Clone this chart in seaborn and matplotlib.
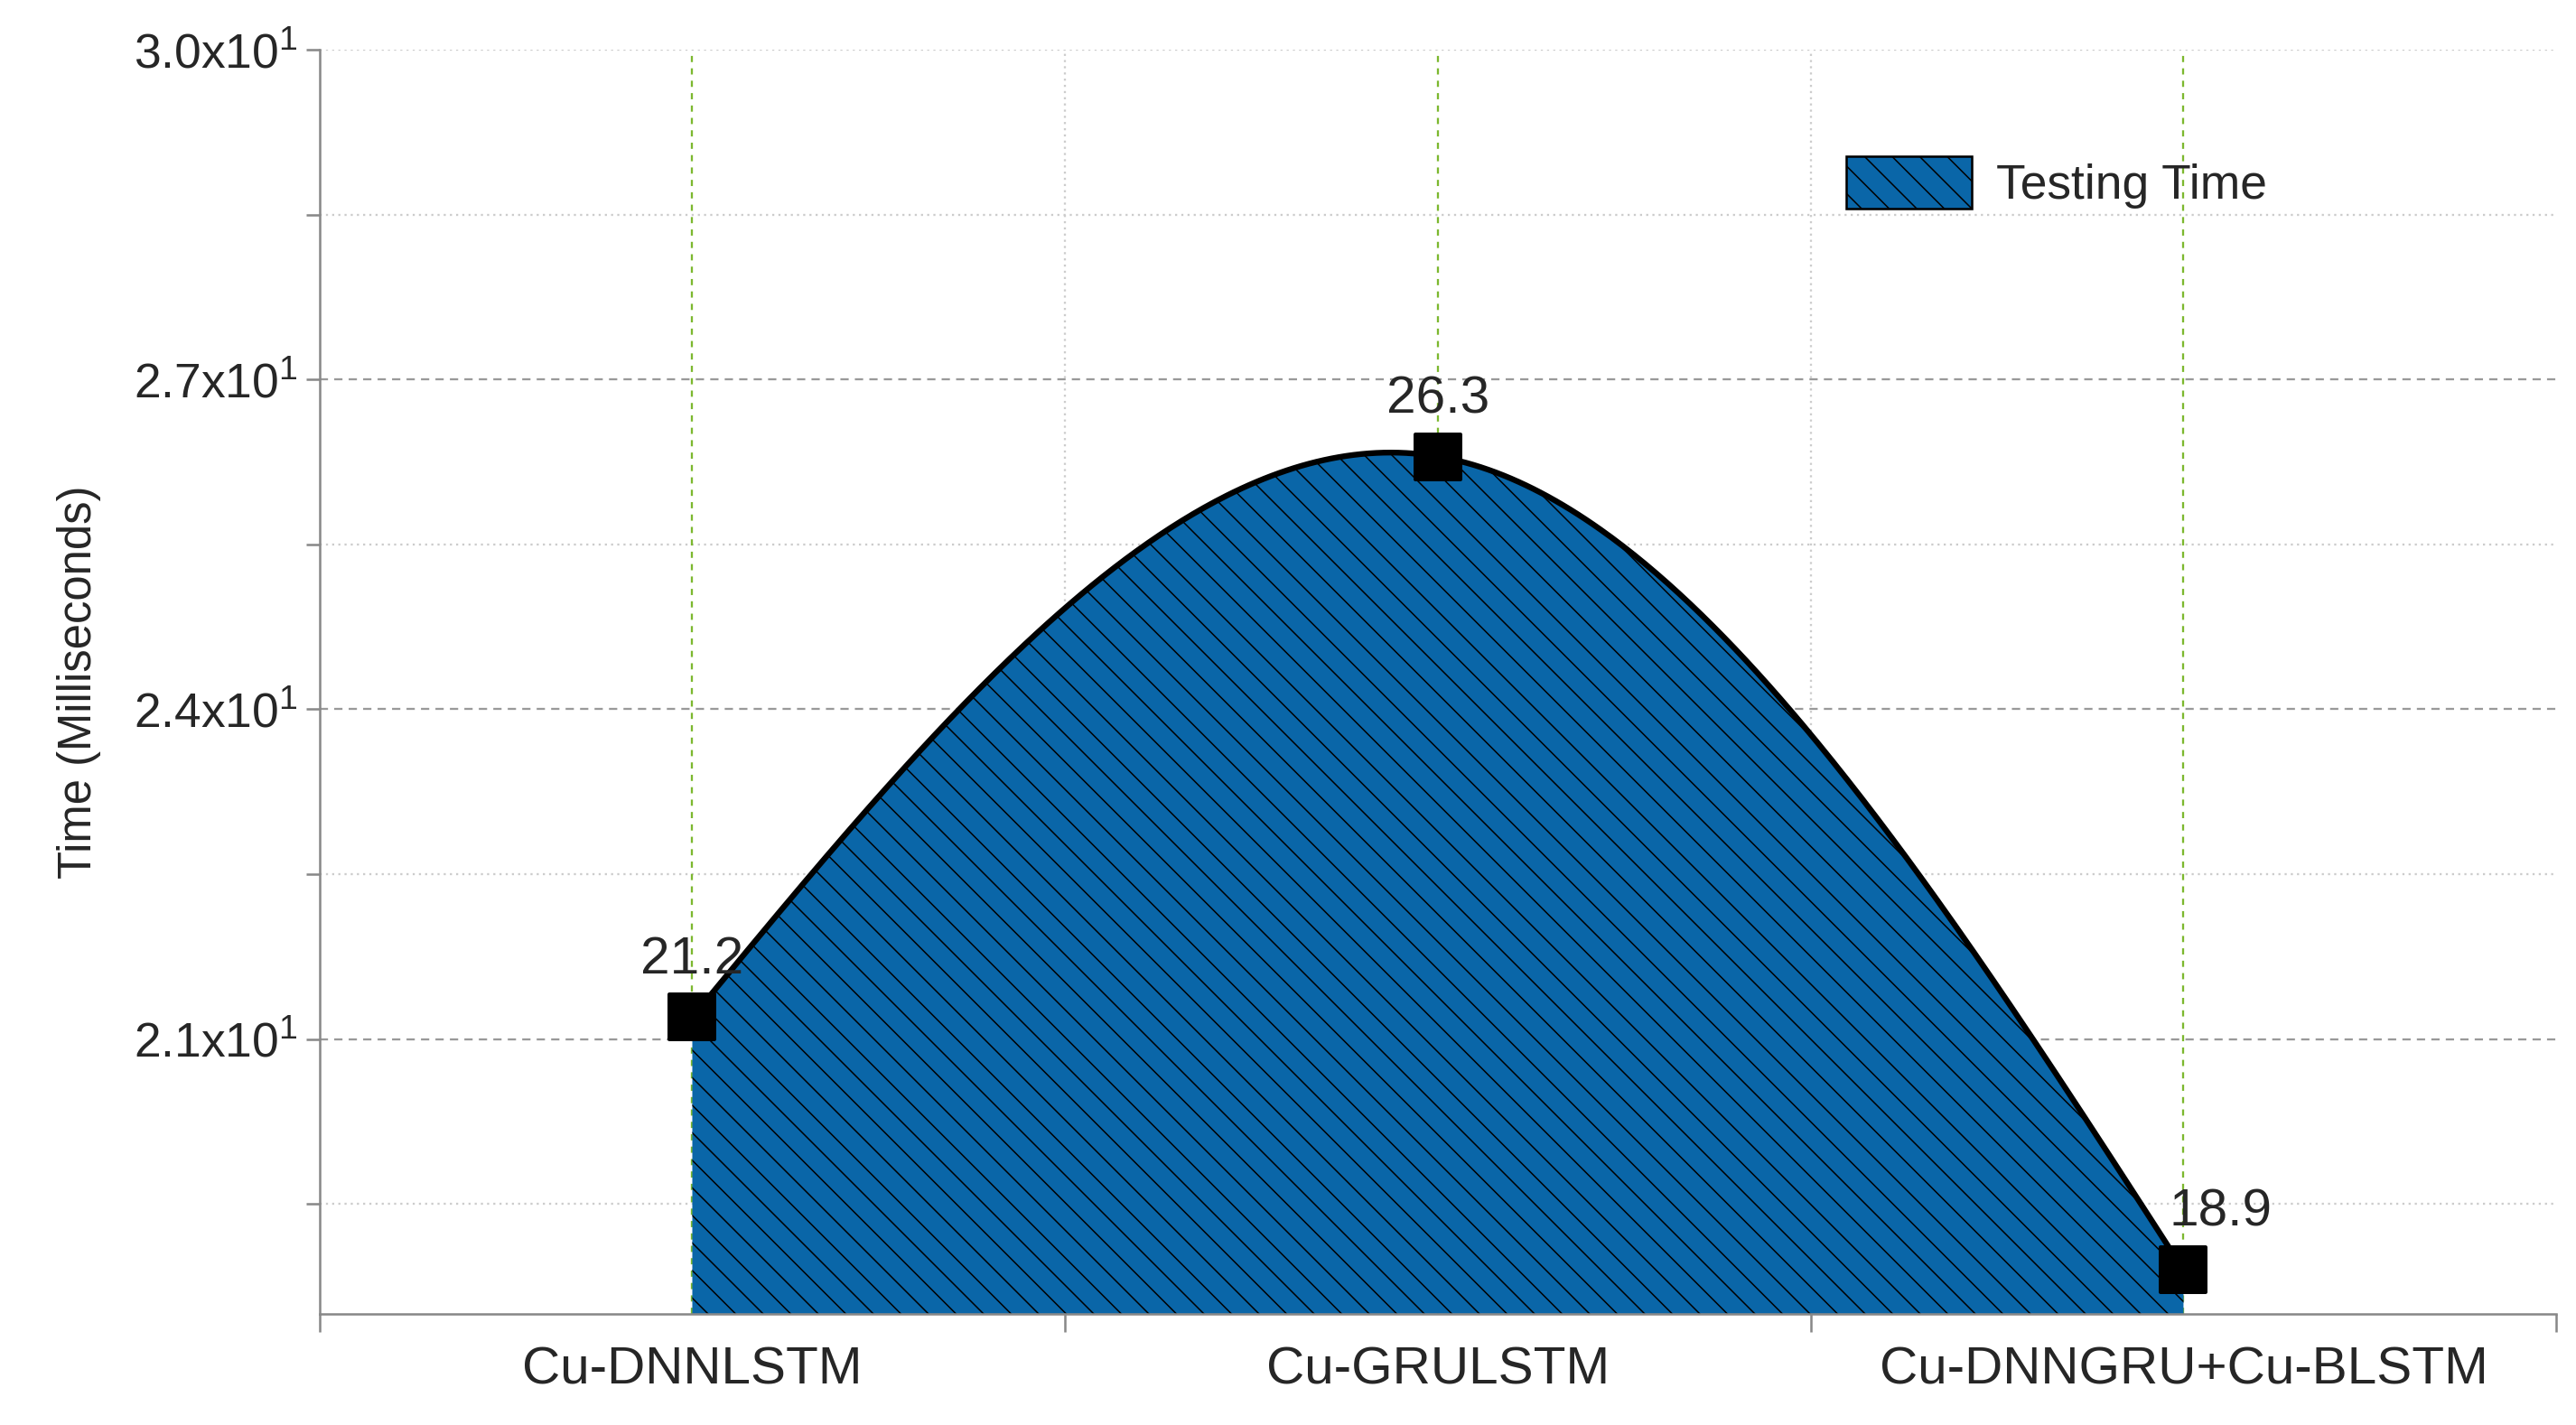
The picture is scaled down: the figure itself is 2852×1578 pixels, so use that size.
import numpy as np
import pandas as pd
import matplotlib
matplotlib.use("Agg")
import matplotlib.pyplot as plt
import seaborn as sns
from matplotlib.patches import Patch

models = ["Cu-DNNLSTM", "Cu-GRULSTM", "Cu-DNNGRU+Cu-BLSTM"]
times = [21.2, 26.3, 18.9]
ytick_vals = [21, 24, 27, 30]
ytick_labels = ["2.1x10$^1$", "2.4x10$^1$", "2.7x10$^1$", "3.0x10$^1$"]

sns.set_style("white")
plt.rcParams['font.family'] = ['Liberation Sans', 'DejaVu Sans']
plt.rcParams['mathtext.fontset'] = 'custom'
plt.rcParams['mathtext.rm'] = 'Liberation Sans'
plt.rcParams['hatch.linewidth'] = 0.6

fig = plt.figure(figsize=(15.59, 8.623), dpi=183)
ax = fig.add_axes([0.124, 0.078, 0.868, 0.887])

x = np.arange(len(models), dtype=float)
y = np.array(times)

def natural_spline(xk, yk, xs):
    n = len(xk)
    h = np.diff(xk)
    A = np.zeros((n, n)); b = np.zeros(n)
    A[0, 0] = A[-1, -1] = 1
    for i in range(1, n - 1):
        A[i, i-1] = h[i-1]; A[i, i] = 2*(h[i-1]+h[i]); A[i, i+1] = h[i]
        b[i] = 3*((yk[i+1]-yk[i])/h[i] - (yk[i]-yk[i-1])/h[i-1])
    c = np.linalg.solve(A, b)
    out = np.empty_like(xs)
    for j, xv in enumerate(xs):
        i = min(max(np.searchsorted(xk, xv, side='right') - 1, 0), n - 2)
        dx = xv - xk[i]
        bb = (yk[i+1]-yk[i])/h[i] - h[i]*(2*c[i]+c[i+1])/3
        d = (c[i+1]-c[i])/(3*h[i])
        out[j] = yk[i] + bb*dx + c[i]*dx**2 + d*dx**3
    return out

xs = np.linspace(0, 2, 400)
ys = natural_spline(x, y, xs)

ax.fill_between(xs, 18.5, ys, facecolor='#0a66a8', hatch='\\\\', edgecolor='black', linewidth=0, zorder=2)
sns.lineplot(x=xs, y=ys, ax=ax, color='black', linewidth=2.5, zorder=3)
sns.scatterplot(x=x, y=y, ax=ax, marker='s', s=380, color='black', edgecolor='black', zorder=4)

for xi, yi in zip(x, y):
    ax.text(xi + (0.05 if xi == 2 else 0.0), yi + 0.3, f"{yi}", ha='center', va='bottom', fontsize=23, zorder=5)

ax.set_xlim(-0.5, 2.5)
ax.set_ylim(18.5, 30)
ax.set_xticks(x)
ax.set_xticklabels(models, fontsize=23)
ax.set_xticks([-0.5, 0.5, 1.5, 2.5], minor=True)
ax.set_yticks(ytick_vals)
ax.set_yticklabels(ytick_labels, fontsize=21)
ax.set_yticks([19.5, 22.5, 25.5, 28.5], minor=True)
ax.set_ylabel("Time (Milliseconds)", fontsize=20, labelpad=14)

ax.grid(False)
for v in ytick_vals[:-1]:
    ax.axhline(v, color='#999999', linestyle=(0, (4, 3)), linewidth=0.9, zorder=1)
for v in [19.5, 22.5, 25.5, 28.5, 30]:
    ax.axhline(v, color='#cccccc', linestyle=(0, (1, 2)), linewidth=0.9, zorder=1)
for v in x:
    ax.axvline(v, color='#7cb82f', linestyle=(0, (3, 3)), linewidth=0.9, zorder=1)
for v in [0.5, 1.5]:
    ax.axvline(v, color='#cccccc', linestyle=(0, (1, 2)), linewidth=0.9, zorder=1)

for s in ['top', 'right']:
    ax.spines[s].set_visible(False)
for s in ['left', 'bottom']:
    ax.spines[s].set_color('#888888')
    ax.spines[s].set_linewidth(1)
ax.tick_params(axis='both', which='both', direction='out', color='#888888', length=6, width=1, left=True, bottom=True)
ax.tick_params(axis='x', which='major', length=0, pad=14)
ax.tick_params(axis='x', which='minor', length=8)

handle = Patch(facecolor='#0a66a8', hatch='\\\\', edgecolor='black', label='Testing Time')
ax.legend(handles=[handle], loc='upper right', bbox_to_anchor=(0.89, 0.95), frameon=False,
          fontsize=21, handlelength=2.6, handleheight=1.3, handletextpad=0.5)

fig.savefig("out.png", dpi=183)
